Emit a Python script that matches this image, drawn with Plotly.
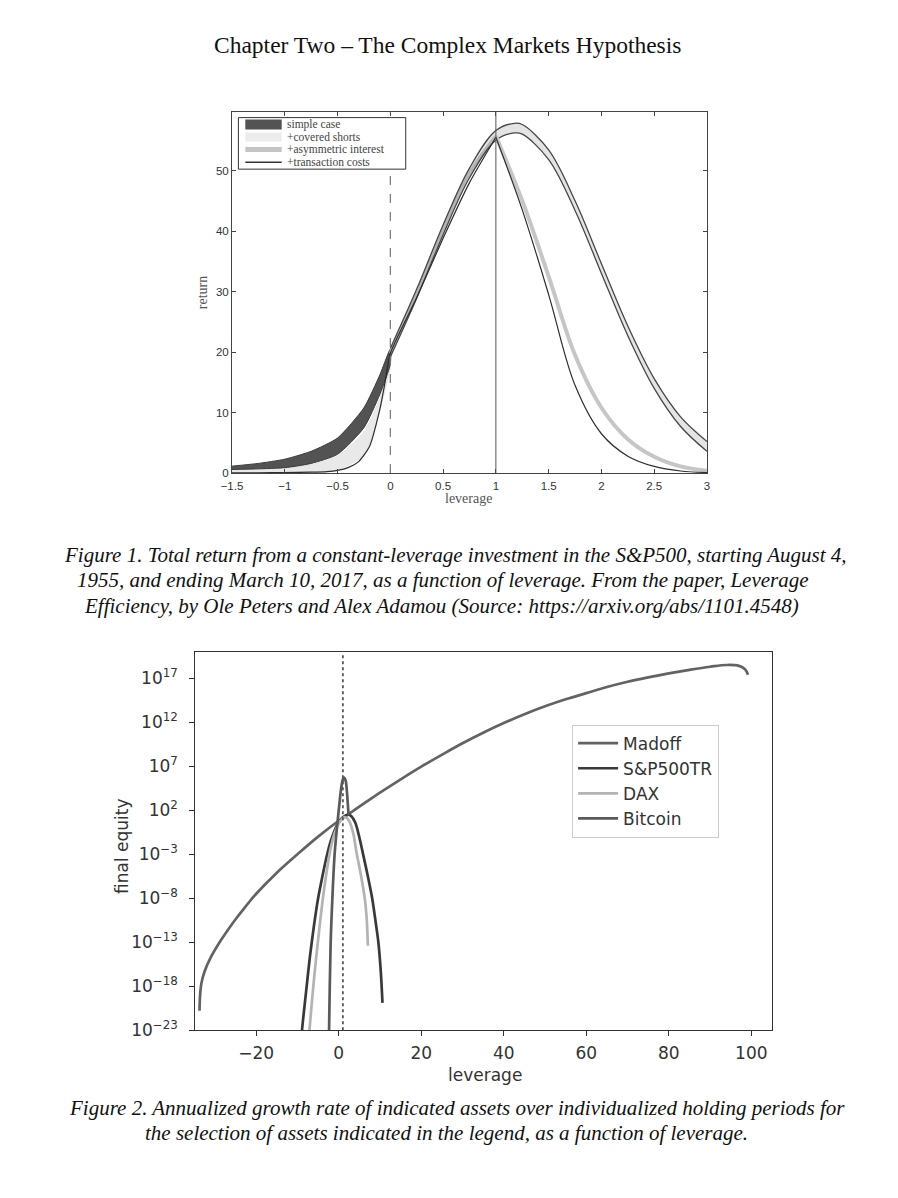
import plotly.graph_objects as go

W = 898
H_REF = 1198      # pixel grid of the reference picture
H_FIG = 1209      # viewport height the page is photographed at (picture is then scaled to 1198)
def px(x): return x / W
def py(y): return 1 - y / H_REF

# ---------------- Figure 1 data (return vs leverage) ----------------
lev_neg = [-1.5, -1.25, -1, -0.75, -0.5, -0.25, -0.1, 0]
simple_neg_upper = [1.15, 1.6, 2.3, 3.6, 5.8, 10.8, 16.2, 20.5]
simple_neg_lower = [0.6, 0.7, 0.9, 1.6, 3.1, 7.5, 13.0, 18.0]
covered_neg_upper = [0.5, 0.6, 0.8, 1.4, 2.8, 6.8, 12.3, 18.6]
covered_neg_lower = [0.1, 0.1, 0.12, 0.2, 0.5, 3.0, 10.3, 17.6]

lev_pos = [0, 0.25, 0.5, 0.75, 1, 1.175, 1.25, 1.5, 1.75, 2, 2.25, 2.5, 2.75, 3]
band_upper = [20.6, 30.4, 41.0, 50.4, 56.6, 57.8, 57.6, 53.4, 45.0, 34.6, 24.3, 15.6, 9.3, 5.2]
band_lower = [19.2, 28.9, 39.4, 48.8, 55.0, 56.2, 56.0, 51.8, 43.4, 33.0, 22.7, 14.0, 7.7, 3.6]

lev_mid = [0, 0.25, 0.5, 0.75, 1]
asym_mid = [19.8, 29.6, 40.2, 49.6, 55.7]
lev_right = [1, 1.25, 1.5, 1.75, 2, 2.25, 2.5, 2.75, 3]
asym_right = [55.7, 45.0, 32.5, 19.5, 10.8, 5.6, 2.7, 1.1, 0.4]

lev_tx_left = [-1.5, -1.25, -1, -0.75, -0.6, -0.5, -0.4, -0.3, -0.2, -0.1, -0.05, 0, 0.25, 0.5, 0.75, 1]
tx_left = [0.05, 0.06, 0.08, 0.15, 0.25, 0.45, 0.9, 1.9, 4.3, 10.5, 15.0, 19.8, 29.0, 38.8, 48.0, 55.5]
tx_right = [55.5, 43.5, 29.5, 14.5, 6.5, 2.8, 1.1, 0.35, 0.1]

fig1_xticks = [-1.5, -1, -0.5, 0, 0.5, 1, 1.5, 2, 2.5, 3]
fig1_xlabels = ["\u22121.5", "\u22121", "\u22120.5", "0", "0.5", "1", "1.5", "2", "2.5", "3"]
fig1_yticks = [0, 10, 20, 30, 40, 50]
fig1_legend = ["simple case", "+covered shorts", "+asymmetric interest", "+transaction costs"]

# ---------------- Figure 2 data (final equity vs leverage, as log10 exponents) ----------------
madoff_lev = [-33.75, -33.6, -33.3, -32.5, -31, -29, -27, -25, -22.5, -20, -15, -10, -5, 0, 5,
              10, 15, 20, 25, 30, 35, 40, 45, 50, 55, 60, 65, 70, 75, 80, 85, 90, 94, 97, 98.5, 99.2]
madoff_exp = [-20.8, -19.0, -17.7, -16.3, -14.7, -13.1, -11.7, -10.4, -8.9, -7.5, -5.1, -3.0, -1.0, 0.8, 2.4,
              4.0, 5.5, 6.95, 8.3, 9.6, 10.8, 11.9, 12.9, 13.8, 14.6, 15.3, 16.0, 16.6, 17.1, 17.55, 17.95, 18.3,
              18.5, 18.4, 18.0, 17.4]

sp_lev = [-9.3, -8.9, -8, -7, -6, -5, -4, -3, -2, -1, 0, 1, 2.35,
          3, 4, 5, 5.9, 7, 8.1, 9, 9.6, 10.2, 10.6]
sp_exp = [-26.0, -23.0, -19.0, -14.7, -11.1, -8.0, -5.6, -3.4, -1.6, -0.3, 0.65, 1.2, 1.5,
          1.35, 0.6, -1.1, -3.0, -5.4, -8.0, -10.9, -13.0, -16.4, -19.9]

dax_lev = [-7.5, -7.1, -6, -5, -4, -3, -2, -1, 0, 1, 1.6, 2.5, 3.5, 4.3, 5.3, 6.3, 6.8, 7.06]
dax_exp = [-25.8, -23.0, -17.2, -12.7, -8.6, -5.2, -2.4, -0.6, 0.5, 1.1, 1.2, 0.8, -0.6, -2.8, -5.2, -8.0, -10.5, -13.4]

btc_lev = [-2.5, -2.35, -1.96, -1.5, -1.0, -0.5, 0, 0.5, 1.0, 1.3, 1.7, 2.0, 2.3, 2.4]
btc_exp = [-27.0, -23.0, -13.0, -7.5, -3.0, -0.3, 2.0, 4.2, 5.5, 5.7, 5.3, 4.0, 2.0, 1.4]

fig2_xticks = [-20, 0, 20, 40, 60, 80, 100]
fig2_yexp = [17, 12, 7, 2, -3, -8, -13, -18, -23]

def to_val(exps):
    return [10 ** e for e in exps]

fig = go.Figure()

# ---------- Figure 1 traces ----------
fig.add_trace(go.Scatter(x=lev_neg + lev_neg[::-1], y=covered_neg_upper + covered_neg_lower[::-1],
                         fill="toself", fillcolor="#e9e9e9", mode="lines",
                         line=dict(color="#d8d8d8", width=0.6, shape="spline", smoothing=0.6),
                         name=fig1_legend[1], showlegend=False, xaxis="x", yaxis="y"))
fig.add_trace(go.Scatter(x=lev_neg + lev_neg[::-1], y=simple_neg_upper + simple_neg_lower[::-1],
                         fill="toself", fillcolor="#535353", mode="lines",
                         line=dict(color="#3c3c3c", width=1, shape="spline", smoothing=0.6),
                         name=fig1_legend[0], showlegend=False, xaxis="x", yaxis="y"))
fig.add_trace(go.Scatter(x=lev_pos + lev_pos[::-1], y=band_upper + band_lower[::-1],
                         fill="toself", fillcolor="#e4e4e4", mode="lines",
                         line=dict(color="rgba(0,0,0,0)", width=0, shape="spline", smoothing=0.8),
                         name=fig1_legend[1] + " band", showlegend=False, xaxis="x", yaxis="y"))
fig.add_trace(go.Scatter(x=lev_mid, y=asym_mid, mode="lines",
                         line=dict(color="#b4b4b4", width=3.2, shape="spline"),
                         name=fig1_legend[2], showlegend=False, xaxis="x", yaxis="y"))
for arr in (band_upper, band_lower):
    fig.add_trace(go.Scatter(x=lev_pos, y=arr, mode="lines",
                             line=dict(color="#474747", width=1.3, shape="spline", smoothing=1.0),
                             showlegend=False, xaxis="x", yaxis="y", hoverinfo="skip"))
fig.add_trace(go.Scatter(x=lev_right, y=asym_right, mode="lines",
                         line=dict(color="#c6c6c6", width=4, shape="spline"),
                         name=fig1_legend[2], showlegend=False, xaxis="x", yaxis="y"))
fig.add_trace(go.Scatter(x=lev_tx_left, y=tx_left, mode="lines",
                         line=dict(color="#2e2e2e", width=1.2, shape="spline", smoothing=0.6),
                         name=fig1_legend[3], showlegend=False, xaxis="x", yaxis="y"))
fig.add_trace(go.Scatter(x=lev_right, y=tx_right, mode="lines",
                         line=dict(color="#2e2e2e", width=1.2, shape="spline"),
                         name=fig1_legend[3], showlegend=False, xaxis="x", yaxis="y"))

# ---------- Figure 2 traces ----------
series2 = [
    ("Madoff", madoff_lev, madoff_exp, "#636363", 1.1),
    ("S&P500TR", sp_lev, sp_exp, "#393939", 0.8),
    ("DAX", dax_lev, dax_exp, "#b3b3b3", 0.8),
    ("Bitcoin", btc_lev, btc_exp, "#5a5a5a", 0.8),
]
for nm, xs, es, col, sm in series2:
    fig.add_trace(go.Scatter(x=xs, y=to_val(es), mode="lines", name=nm,
                             line=dict(color=col, width=2.7, shape="spline", smoothing=sm),
                             xaxis="x2", yaxis="y2", legend="legend2", legendgroup=nm))

shapes = [
    dict(type="line", xref="x", yref="y domain", x0=1, x1=1, y0=0, y1=1,
         line=dict(color="#555555", width=1)),
    dict(type="line", xref="x", yref="y domain", x0=0, x1=0, y0=0, y1=1,
         line=dict(color="#777777", width=1.2, dash="dash")),
    dict(type="line", xref="x2", yref="y2 domain", x0=1, x1=1, y0=0, y1=1,
         line=dict(color="#555555", width=1.8, dash="dot")),
]

# compact matplotlib-style legend box for figure 1
leg_rows = [124.5, 137.0, 149.5, 162.0]
shapes.append(dict(type="rect", xref="paper", yref="paper", x0=px(231), x1=px(401), y0=py(169), y1=py(117.5),
                   line=dict(color="#333333", width=1), fillcolor="white", layer="above"))
shapes.append(dict(type="rect", xref="paper", yref="paper", x0=px(238), x1=px(275),
                   y0=py(leg_rows[0] + 5), y1=py(leg_rows[0] - 5),
                   line=dict(width=0), fillcolor="#535353", layer="above"))
shapes.append(dict(type="rect", xref="paper", yref="paper", x0=px(238), x1=px(275),
                   y0=py(leg_rows[1] + 4.5), y1=py(leg_rows[1] - 4.5),
                   line=dict(width=0), fillcolor="#ececec", layer="above"))
shapes.append(dict(type="line", xref="paper", yref="paper", x0=px(238), x1=px(275),
                   y0=py(leg_rows[2]), y1=py(leg_rows[2]),
                   line=dict(color="#c4c4c4", width=5), layer="above"))
shapes.append(dict(type="line", xref="paper", yref="paper", x0=px(238), x1=px(275),
                   y0=py(leg_rows[3]), y1=py(leg_rows[3]),
                   line=dict(color="#333333", width=1.5), layer="above"))

annotations = []
for txt, yy in zip(fig1_legend, leg_rows):
    annotations.append(dict(text=txt, x=px(278), y=py(yy), xanchor="left",
                            font=dict(family="Liberation Serif", size=11.5, color="#444444")))

serif = "Liberation Serif"
annotations += [
    dict(text="Chapter Two \u2013 The Complex Markets Hypothesis", x=px(443), y=py(45), xanchor="center",
         font=dict(family=serif, size=23.5, color="#111111")),
    dict(text="return", x=px(194), y=py(292), textangle=-90, xanchor="center",
         font=dict(family=serif, size=14, color="#555555")),
    dict(text="leverage", x=px(465), y=py(498), xanchor="center",
         font=dict(family=serif, size=14, color="#555555")),
    dict(text="final equity", x=px(112), y=py(845), textangle=-90, xanchor="center",
         font=dict(family="DejaVu Sans", size=17, color="#333333")),
    dict(text="leverage", x=px(481), y=py(1074), xanchor="center",
         font=dict(family="DejaVu Sans", size=17, color="#333333")),
]
cap1 = ["Figure 1. Total return from a constant-leverage investment in the S&P500, starting August 4,",
        "1955, and ending March 10, 2017, as a function of leverage. From the paper, Leverage",
        "Efficiency, by Ole Peters and Alex Adamou (Source: https://arxiv.org/abs/1101.4548)"]
for txt, xx, yy in zip(cap1, [452, 439, 437], [555, 580, 605]):
    annotations.append(dict(text="<i>" + txt + "</i>", x=px(xx), y=py(yy), xanchor="center",
                            font=dict(family=serif, size=21, color="#111111")))
cap2 = ["Figure 2. Annualized growth rate of indicated assets over individualized holding periods for",
        "the selection of assets indicated in the legend, as a function of leverage."]
for txt, xx, yy in zip(cap2, [453, 442], [1107, 1132]):
    annotations.append(dict(text="<i>" + txt + "</i>", x=px(xx), y=py(yy), xanchor="center",
                            font=dict(family=serif, size=21, color="#111111")))
for a in annotations:
    a.setdefault("xref", "paper")
    a.setdefault("yref", "paper")
    a.setdefault("showarrow", False)
    a.setdefault("yanchor", "middle")

fig.update_layout(
    width=W, height=H_FIG, margin=dict(l=0, r=0, t=0, b=0),
    paper_bgcolor="white", plot_bgcolor="white",
    shapes=shapes, annotations=annotations,
    xaxis=dict(domain=[px(224.5), px(707)], range=[-1.5, 3], anchor="y",
               tickvals=fig1_xticks, ticktext=fig1_xlabels,
               showline=True, linecolor="#444444", linewidth=1, mirror="ticks",
               ticks="inside", ticklen=4, tickcolor="#444444", showgrid=False, zeroline=False,
               ticklabelstandoff=2,
               tickfont=dict(family="Liberation Sans", size=11.5, color="#333333")),
    yaxis=dict(domain=[py(472.7), py(111.7)], range=[0, 59.7], anchor="x",
               tickvals=fig1_yticks,
               showline=True, linecolor="#444444", linewidth=1, mirror="ticks",
               ticks="inside", ticklen=4, tickcolor="#444444", showgrid=False, zeroline=False,
               tickfont=dict(family="Liberation Sans", size=11.5, color="#333333")),
    xaxis2=dict(domain=[px(187.3), px(773)], range=[-34.75, 105], anchor="y2",
                tickvals=fig2_xticks,
                showline=True, linecolor="#333333", linewidth=1.2, mirror=True,
                ticks="outside", ticklen=5, tickcolor="#333333", showgrid=False, zeroline=False,
                ticklabelstandoff=2,
                tickfont=dict(family="DejaVu Sans", size=17, color="#333333")),
    yaxis2=dict(domain=[py(1029.3), py(651.7)], type="log", range=[-23, 19.95], anchor="x2",
                tickvals=[10 ** e for e in fig2_yexp],
                ticktext=["10<sup>" + str(e).replace("-", "\u2212") + "</sup>" for e in fig2_yexp],
                showline=True, linecolor="#333333", linewidth=1.2, mirror=True,
                ticks="outside", ticklen=5, tickcolor="#333333", showgrid=False, zeroline=False,
                ticklabelstandoff=8,
                tickfont=dict(family="DejaVu Sans", size=17, color="#333333")),
    legend2=dict(x=px(570), y=py(724), xanchor="left", yanchor="top",
                 bgcolor="white", bordercolor="#cccccc", borderwidth=1,
                 font=dict(family="DejaVu Sans", size=17, color="#333333"),
                 itemwidth=40, tracegroupgap=0, traceorder="normal"),
    showlegend=True,
)

fig.write_html("out.html", config={"displayModeBar": False},
               post_script=("document.body.style.margin='0';"
                            "document.documentElement.style.overflow='hidden';"
                            "document.body.style.overflow='hidden';"))
